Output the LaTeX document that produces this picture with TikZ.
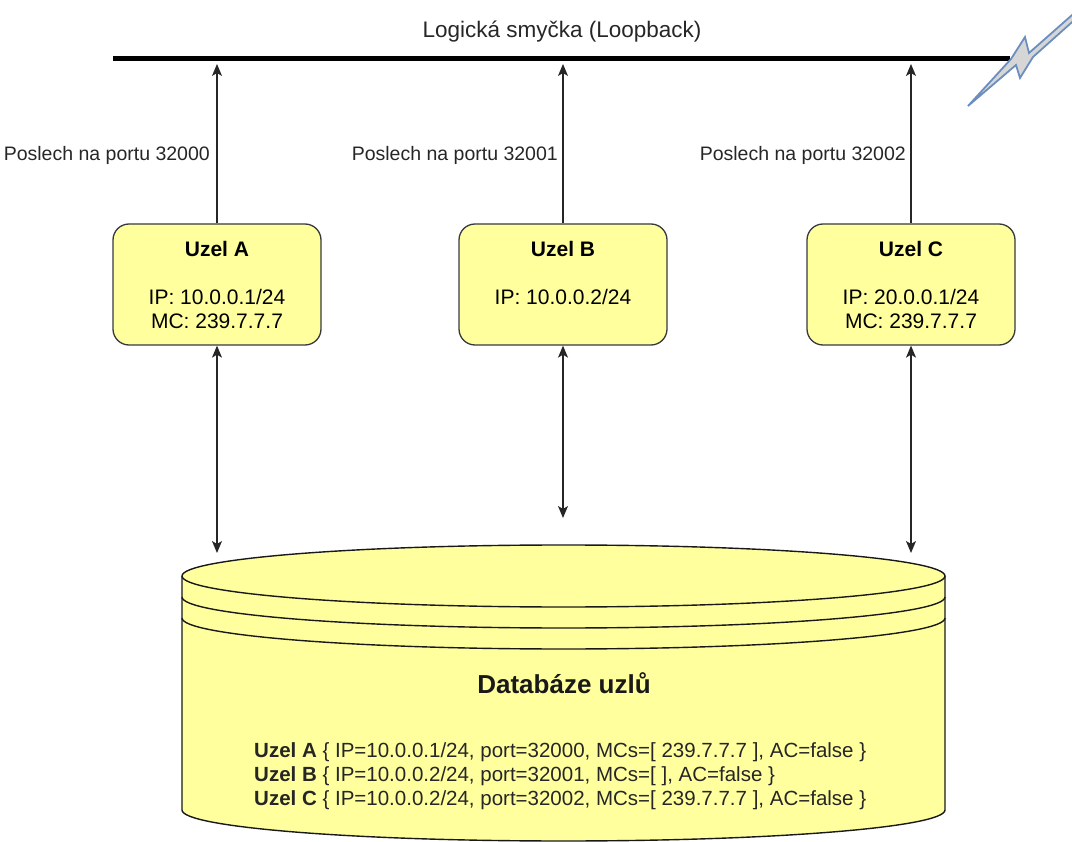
\documentclass[tikz,border=0pt]{standalone}
\usepackage{fontspec}
\setmainfont{Liberation Sans}
\usetikzlibrary{arrows.meta}
\definecolor{boxfill}{HTML}{FFFF9E}
\definecolor{boxline}{HTML}{36393D}
\definecolor{boltline}{HTML}{6C8EBF}
\definecolor{boltfill}{HTML}{D6D6D6}

\begin{document}
\begin{tikzpicture}[x=1pt,y=-1pt,
  uzel/.style={draw=boxline, fill=boxfill, line width=1.3pt, rounded corners=16pt,
    minimum width=208pt, minimum height=121pt, align=center, inner sep=0pt,
    font=\fontsize{21}{24}\selectfont},
  wire/.style={line width=1.3pt, draw=black!85, -{Stealth[length=12pt,width=10pt,inset=3pt]}},
  biwire/.style={line width=1.3pt, draw=black!85,
    {Stealth[length=12pt,width=10pt,inset=3pt]}-{Stealth[length=12pt,width=10pt,inset=3pt]}},
  port/.style={font=\fontsize{19.5}{23}\selectfont, anchor=east, inner sep=0pt, text=black!85},
  dbline/.style={draw=black!90, line width=1.4pt},
]
\useasboundingbox (0,0) rectangle (1072,842);

% loopback bus
\coordinate (busL) at (113,59);
\coordinate (busR) at (1010,59);
\draw[line width=5pt] (busL) -- (busR);
\node[font=\fontsize{22.5}{26}\selectfont, text=black!85] (title) at (562,32) {Logická smyčka (Loopback)};

% lightning bolt at the end of the bus
\begin{scope}
\clip (0,0) rectangle (1072,842);
\draw[boltline, fill=boltfill, line width=1.8pt, line join=miter]
  (968,106) -- (1011,59) -- (1025,37) -- (1029,53) -- (1080,8)
  -- (1080,15) -- (1033,57) -- (1020,78) -- (1016,65) -- cycle;
\end{scope}

% nodes
\node[uzel] (a) at (217,284.5) {\textbf{Uzel A}\\ \strut\\ IP: 10.0.0.1/24\\ MC: 239.7.7.7};
\node[uzel] (b) at (563,284.5) {\textbf{Uzel B}\\ \strut\\ IP: 10.0.0.2/24\\ \phantom{MC: 239.7.7.7}};
\node[uzel] (c) at (911,284.5) {\textbf{Uzel C}\\ \strut\\ IP: 20.0.0.1/24\\ MC: 239.7.7.7};

% listening ports
\coordinate (ta) at (217,64);
\coordinate (tb) at (563,64);
\coordinate (tc) at (911,64);
\draw[wire] (a.north) -- (ta);
\draw[wire] (b.north) -- (tb);
\draw[wire] (c.north) -- (tc);
\node[port] (pa) at (210,155) {Poslech na portu 32000};
\node[port] (pb) at (558,155) {Poslech na portu 32001};
\node[port] (pc) at (906,155) {Poslech na portu 32002};

% node database (data store)
\fill[boxfill] (182,576) arc[start angle=180,end angle=0,x radius=381.5pt,y radius=31pt]
  -- (945,810) arc[start angle=0,end angle=-180,x radius=381.5pt,y radius=31pt] -- cycle;
\draw[dbline] (182,810) -- (182,576)
  arc[start angle=180,end angle=0,x radius=381.5pt,y radius=31pt] -- (945,810);
\draw[dbline] (182,810) arc[start angle=180,end angle=360,x radius=381.5pt,y radius=31pt];
\foreach \yy in {576,597,618}
  \draw[dbline] (182,\yy) arc[start angle=180,end angle=360,x radius=381.5pt,y radius=31pt];

\node[font=\bfseries\fontsize{26}{30}\selectfont, text=black!90] (dbtitle) at (564,683) {Databáze uzlů};
\node[anchor=west, align=left, inner sep=0pt, text=black!85,
  font=\fontsize{20.5}{24}\selectfont] (dbrows) at (254,776)
  {\textbf{Uzel A} \{ IP=10.0.0.1/24, port=32000, MCs=[ 239.7.7.7 ], AC=false \}\\
   \textbf{Uzel B} \{ IP=10.0.0.2/24, port=32001, MCs=[ ], AC=false \}\\
   \textbf{Uzel C} \{ IP=10.0.0.2/24, port=32002, MCs=[ 239.7.7.7 ], AC=false \}};

% links between the nodes and the database
\coordinate (da) at (217,553);
\coordinate (db) at (563,518);
\coordinate (dc) at (911,553);
\draw[biwire] (a.south) -- (da);
\draw[biwire] (b.south) -- (db);
\draw[biwire] (c.south) -- (dc);
\end{tikzpicture}
\end{document}
